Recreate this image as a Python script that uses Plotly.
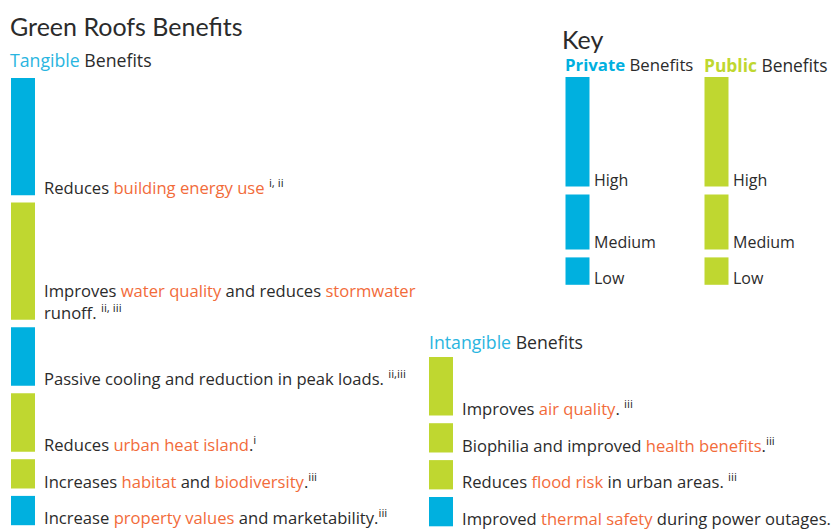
import plotly.graph_objects as go

# ---------------- data ----------------
level_value = {"High": 4, "Medium": 2, "Low": 1}

tangible_type = ["Private", "Public", "Private", "Public", "Public", "Private"]
tangible_level = ["High", "High", "Medium", "Medium", "Low", "Low"]
tangible_text = [
    "Reduces <span style='color:#F26B3A'>building energy use</span> <sup>i, ii</sup>",
    "Improves <span style='color:#F26B3A'>water quality</span> and reduces <span style='color:#F26B3A'>stormwater</span><br>runoff. <sup>ii, iii</sup>",
    "Passive cooling and reduction in peak loads. <sup>ii,iii</sup>",
    "Reduces <span style='color:#F26B3A'>urban heat island</span>.<sup>i</sup>",
    "Increases <span style='color:#F26B3A'>habitat</span> and <span style='color:#F26B3A'>biodiversity</span>.<sup>iii</sup>",
    "Increase <span style='color:#F26B3A'>property values</span> and marketability.<sup>iii</sup>",
]

intangible_type = ["Public", "Public", "Public", "Private"]
intangible_level = ["Medium", "Low", "Low", "Low"]
intangible_text = [
    "Improves <span style='color:#F26B3A'>air quality</span>. <sup>iii</sup>",
    "Biophilia and improved <span style='color:#F26B3A'>health benefits</span>.<sup>iii</sup>",
    "Reduces <span style='color:#F26B3A'>flood risk</span> in urban areas. <sup>iii</sup>",
    "Improved <span style='color:#F26B3A'>thermal safety</span> during power outages.",
]

key_levels = ["High", "Medium", "Low"]
key_types = ["Private", "Public"]

# ---------------- style ----------------
COL = {"Private": "#00B0DF", "Public": "#BFD730"}
TXT = "#2B2B2B"
FONT = "Open Sans"
HFONT = "Lato"
W, H = 835, 531
U = 29.3      # px per unit (main)
UK = 27.4     # px per unit (key)
BAR_W = 24
BODY = 16.6

def stack(levels, start, gap):
    tops, hs = [], []
    pos = start
    for lv in levels:
        v = level_value[lv]
        tops.append(pos)
        hs.append(v)
        pos += v + gap
    return tops, hs

fig = go.Figure()
ann = []

def column(types, levels, texts, xc, start_px, gap_px):
    tops, hs = stack(levels, start_px / U, gap_px / U)
    fig.add_trace(go.Bar(
        x=[xc] * len(hs), y=hs, base=tops, width=BAR_W,
        marker=dict(color=[COL[t] for t in types], line=dict(width=0)),
        hoverinfo="skip", showlegend=False, xaxis="x", yaxis="y"))
    for t, h, txt in zip(tops, hs, texts):
        ann.append(dict(x=xc + BAR_W / 2 + 7, y=t + h, xref="x", yref="y",
                        text=txt, showarrow=False, xanchor="left", yanchor="bottom",
                        align="left", yshift=-6,
                        font=dict(family=FONT, size=BODY, color=TXT)))

column(tangible_type, tangible_level, tangible_text, 23, 78, 7.4)
column(intangible_type, intangible_level, intangible_text, 441, 357, 7.6)

# key
for kt, xc in zip(key_types, [577.5, 716.5]):
    tops, hs = stack(key_levels, 77 / UK, 8 / UK)
    fig.add_trace(go.Bar(
        x=[xc] * len(hs), y=hs, base=tops, width=BAR_W,
        marker=dict(color=COL[kt], line=dict(width=0)),
        hoverinfo="skip", showlegend=False, xaxis="x", yaxis="y2"))
    for t, h, lv in zip(tops, hs, key_levels):
        ann.append(dict(x=xc + BAR_W / 2 + 2, y=t + h, xref="x", yref="y2",
                        text=lv, showarrow=False, xanchor="left", yanchor="bottom",
                        yshift=-6, font=dict(family=FONT, size=16, color=TXT)))

def label(x, y, text, size, family=FONT, anchor="middle"):
    ann.append(dict(x=x, y=y, xref="paper", yref="paper", text=text, showarrow=False,
                    xanchor="left", yanchor=anchor,
                    font=dict(family=family, size=size, color=TXT)))

label(8 / W, 1 - 26 / H, "Green Roofs Benefits", 25, HFONT)
label(8 / W, 1 - 60 / H, "<span style='color:#29B5E0'>Tangible</span> Benefits", 17.7)
label(427 / W, 1 - 342 / H, "<span style='color:#29B5E0'>Intangible</span> Benefits", 17.7)
label(560 / W, 1 - 39 / H, "Key", 25, HFONT)
label(563 / W, 1 - 65 / H, "<b><span style='color:#00B0DF'>Private</span></b> Benefits", 16.8)
label(702 / W, 1 - 65 / H, "<b><span style='color:#BFD730'>Public</span></b> Benefits", 17.4)

fig.update_layout(
    width=W, height=H, margin=dict(l=0, r=0, t=0, b=0),
    paper_bgcolor="white", plot_bgcolor="white",
    barmode="overlay",
    xaxis=dict(range=[0, W], visible=False, fixedrange=True),
    yaxis=dict(range=[H / U, 0], visible=False, fixedrange=True),
    yaxis2=dict(range=[H / UK, 0], visible=False, overlaying="y", fixedrange=True),
    annotations=ann,
)

fig.write_html("out.html", config={"displayModeBar": False},
               post_script="document.body.style.margin='0px';")
